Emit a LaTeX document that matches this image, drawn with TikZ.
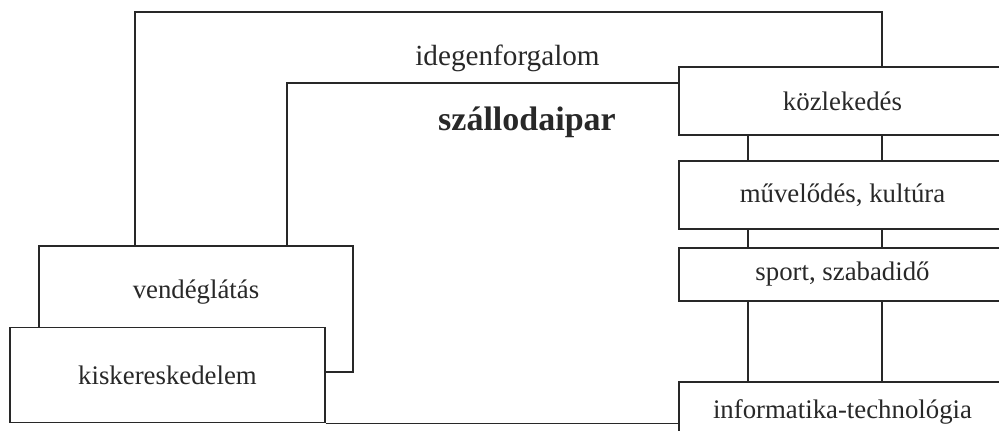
\documentclass[tikz,border=0pt]{standalone}
\usepackage{fontspec}
\setmainfont{Liberation Serif}
\usetikzlibrary{positioning}
\definecolor{vonalszin}{RGB}{40,40,40}

\begin{document}
\begin{tikzpicture}[x=1pt,y=-1pt,line width=1.4pt,draw=vonalszin,text=vonalszin,
		doboz/.style={draw,fill=white,inner sep=0pt,font=\fontsize{26.8}{32}\selectfont},
		jobbdoboz/.style={doboz,minimum width=327}]
					\useasboundingbox (0,0) rectangle (999,431);

					\coordinate (bal) at (135,12);
					\coordinate (jobb) at (882,12);
					\coordinate (belso) at (287,83);
					\coordinate (kozep) at (748,83);

					\node [jobbdoboz,minimum height=68] (kozl) at (842.5,101) {közlekedés};
					\node [jobbdoboz,minimum height=68] (muv) at (842.5,195) {művelődés, kultúra};
					\node [jobbdoboz,minimum height=53] (sport) at (842.5,274.5) {sport, szabadidő};
					\node [jobbdoboz,minimum height=60] (info) at (842.5,412) {informatika-technológia};
					\node [doboz,minimum width=314,minimum height=126,text height=20,text depth=42] (vend) at (196,309) {vendéglátás};
					\node [doboz,minimum width=315,minimum height=95] (kisk) at (167.5,375) {kiskereskedelem};

					\draw (bal |- vend.north) -- (bal) -- (jobb) -- (jobb |- kozl.north);
					\draw (kozl.west |- belso) -- (belso) -- (belso |- vend.north);
					\foreach \felso/\also in {kozl/muv,muv/sport,sport/info}{
						\draw (\felso.south -| kozep) -- (\also.north -| kozep);
						\draw (\felso.south -| jobb) -- (\also.north -| jobb);
					}
					\draw (kisk.south east) -- (kisk.south east -| info.west);

					\node [font=\fontsize{29.2}{34}\selectfont,anchor=base] (idegen) at (507.5,65) {idegenforgalom};
					\node [font=\fontsize{34}{40}\selectfont\bfseries,anchor=base] (szallo) at (527,130) {szállodaipar};
				\end{tikzpicture}
\end{document}
